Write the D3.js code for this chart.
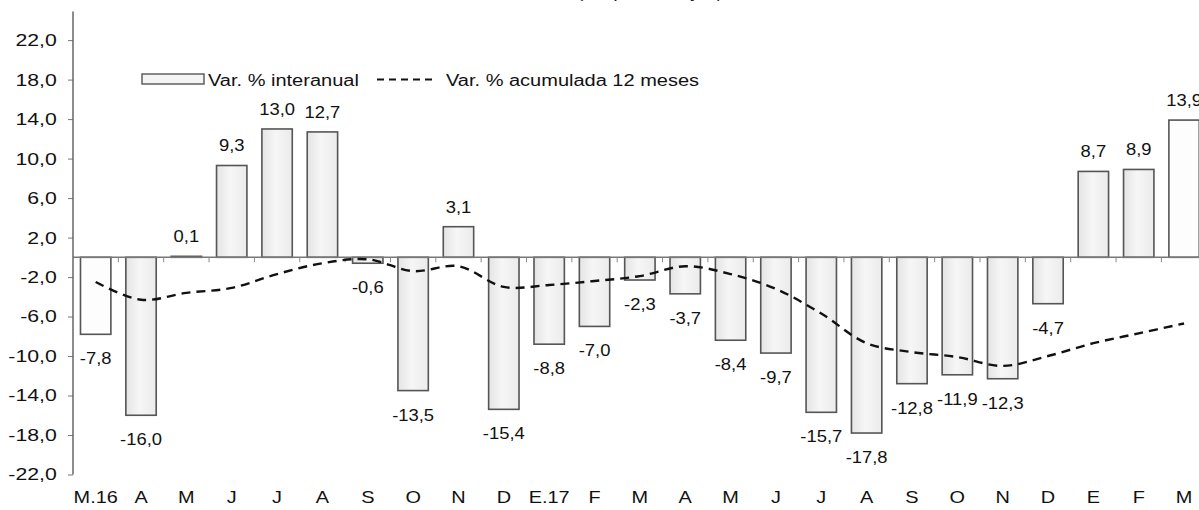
<!DOCTYPE html>
<html>
<head>
<meta charset="utf-8">
<script src="https://cdn.jsdelivr.net/npm/d3@7"></script>
<style>
  html, body { margin: 0; padding: 0; background: #fff; }
  svg { display: block; font-family: "Liberation Sans", Arial, sans-serif; }
</style>
</head>
<body>
<svg id="chart" width="1199" height="510"></svg>
<script>
// Monthly categories (March 2016 to March 2018)
const months = ["M.16","A","M","J","J","A","S","O","N","D","E.17","F","M","A","M","J","J","A","S","O","N","D","E","F","M"];
// Year-on-year change (%), bars
const interanual = [-7.8,-16.0,0.1,9.3,13.0,12.7,-0.6,-13.5,3.1,-15.4,-8.8,-7.0,-2.3,-3.7,-8.4,-9.7,-15.7,-17.8,-12.8,-11.9,-12.3,-4.7,8.7,8.9,13.9];
// 12-month cumulative change (%), dashed line
const acumulada = [-2.5,-4.3,-3.6,-3.1,-1.7,-0.6,-0.2,-1.4,-0.9,-3.0,-2.8,-2.4,-1.9,-0.9,-1.7,-3.2,-5.7,-8.7,-9.6,-10.1,-11.0,-10.0,-8.7,-7.7,-6.7];
// Y tick values
const yTicks = [-22,-18,-14,-10,-6,-2,2,6,10,14,18,22];
// Legend entries
const legendLabels = ["Var. % interanual", "Var. % acumulada 12 meses"];
const titleText = "(En porcentajes)";

const fmt = v => d3.format(".1f")(v).replace(".", ",").replace("−", "-");

const svg = d3.select("#chart");
const axisX = 73;

const x = d3.scaleBand()
  .domain(d3.range(months.length))
  .range([axisX, axisX + 45.35 * months.length])
  .paddingInner(0.33)
  .paddingOuter(0.165);

const y = d3.scaleLinear().domain([-22, 25]).range([474.5, 10.5]);

// Bar fill gradient
const defs = svg.append("defs");
const grad = defs.append("linearGradient").attr("id", "barFill")
  .attr("x1", "0%").attr("x2", "100%").attr("y1", "0%").attr("y2", "0%");
grad.append("stop").attr("offset", "0%").attr("stop-color", "#e4e4e4");
grad.append("stop").attr("offset", "45%").attr("stop-color", "#f6f6f6");
grad.append("stop").attr("offset", "100%").attr("stop-color", "#ebebeb");

// Title (sits mostly above the top edge)
svg.append("text")
  .attr("transform", `translate(650,-2) scale(1.25,1)`)
  .attr("text-anchor", "middle")
  .attr("font-size", 16)
  .attr("fill", "#222")
  .text(titleText);

// Bars
svg.append("g").selectAll("rect")
  .data(interanual)
  .join("rect")
  .attr("x", (d, i) => x(i))
  .attr("width", x.bandwidth())
  .attr("y", d => y(Math.max(0, d)))
  .attr("height", d => Math.abs(y(d) - y(0)))
  .attr("fill", (d, i) => (i === 0 || i === months.length - 1) ? "#fdfdfd" : "url(#barFill)")
  .attr("stroke", "#555")
  .attr("stroke-width", 1.6);

// Zero line with category ticks
svg.append("line")
  .attr("x1", axisX).attr("x2", 1199)
  .attr("y1", y(0)).attr("y2", y(0))
  .attr("stroke", "#777").attr("stroke-width", 1.5);
svg.append("g").selectAll("line")
  .data(d3.range(1, months.length + 1))
  .join("line")
  .attr("x1", i => axisX + x.step() * i)
  .attr("x2", i => axisX + x.step() * i)
  .attr("y1", y(0)).attr("y2", y(0) + 5)
  .attr("stroke", "#888").attr("stroke-width", 1);

// Y axis
const yAxis = svg.append("g")
  .attr("transform", `translate(${axisX},0)`)
  .call(d3.axisLeft(y).tickValues(yTicks).tickSize(5).tickSizeOuter(0).tickFormat(fmt));
yAxis.select(".domain").remove();
yAxis.append("line")
  .attr("x1", 0).attr("x2", 0)
  .attr("y1", y(-22)).attr("y2", 11.5)
  .attr("stroke", "#666").attr("stroke-width", 1.5);
yAxis.selectAll(".tick line").attr("stroke", "#777");
yAxis.selectAll(".tick text")
  .attr("x", -13)
  .attr("font-size", 17)
  .attr("fill", "#111")
  .attr("transform", "scale(1.25,1)");

// X axis labels at the bottom
const xAxis = svg.append("g")
  .attr("transform", `translate(0,480)`)
  .call(d3.axisBottom(x).tickSize(0).tickPadding(11).tickFormat(i => months[i]));
xAxis.select(".domain").remove();
xAxis.selectAll(".tick text")
  .attr("font-size", 17)
  .attr("fill", "#111")
  .attr("transform", "scale(1.17,1)");

// Dashed cumulative line
const line = d3.line()
  .x((d, i) => x(i) + x.bandwidth() / 2)
  .y(d => y(d))
  .curve(d3.curveCatmullRom.alpha(0.5));
svg.append("path")
  .datum(acumulada)
  .attr("d", line)
  .attr("fill", "none")
  .attr("stroke", "#111")
  .attr("stroke-width", 2.4)
  .attr("stroke-dasharray", "9,6");

// Value labels
svg.append("g").selectAll("text")
  .data(interanual)
  .join("text")
  .attr("transform", (d, i) => {
    const cx = x(i) + x.bandwidth() / 2;
    const ty = d >= 0 ? y(d) - 14 : y(d) + 30;
    return `translate(${cx},${ty}) scale(1.15,1)`;
  })
  .attr("text-anchor", "middle")
  .attr("font-size", 16)
  .attr("fill", "#111")
  .text(d => fmt(d));

// Legend
const lg = svg.append("g");
lg.append("rect")
  .attr("x", 142).attr("y", 74).attr("width", 62).attr("height", 10)
  .attr("fill", "#f4f4f4").attr("stroke", "#555").attr("stroke-width", 1.4);
lg.append("text")
  .attr("transform", "translate(208,86) scale(1.25,1)")
  .attr("font-size", 16).attr("fill", "#111")
  .text(legendLabels[0]);
lg.append("line")
  .attr("x1", 377).attr("x2", 434).attr("y1", 79.5).attr("y2", 79.5)
  .attr("stroke", "#111").attr("stroke-width", 2.2)
  .attr("stroke-dasharray", "7,5");
lg.append("text")
  .attr("transform", "translate(446,86) scale(1.25,1)")
  .attr("font-size", 16).attr("fill", "#111")
  .text(legendLabels[1]);
</script>
</body>
</html>
